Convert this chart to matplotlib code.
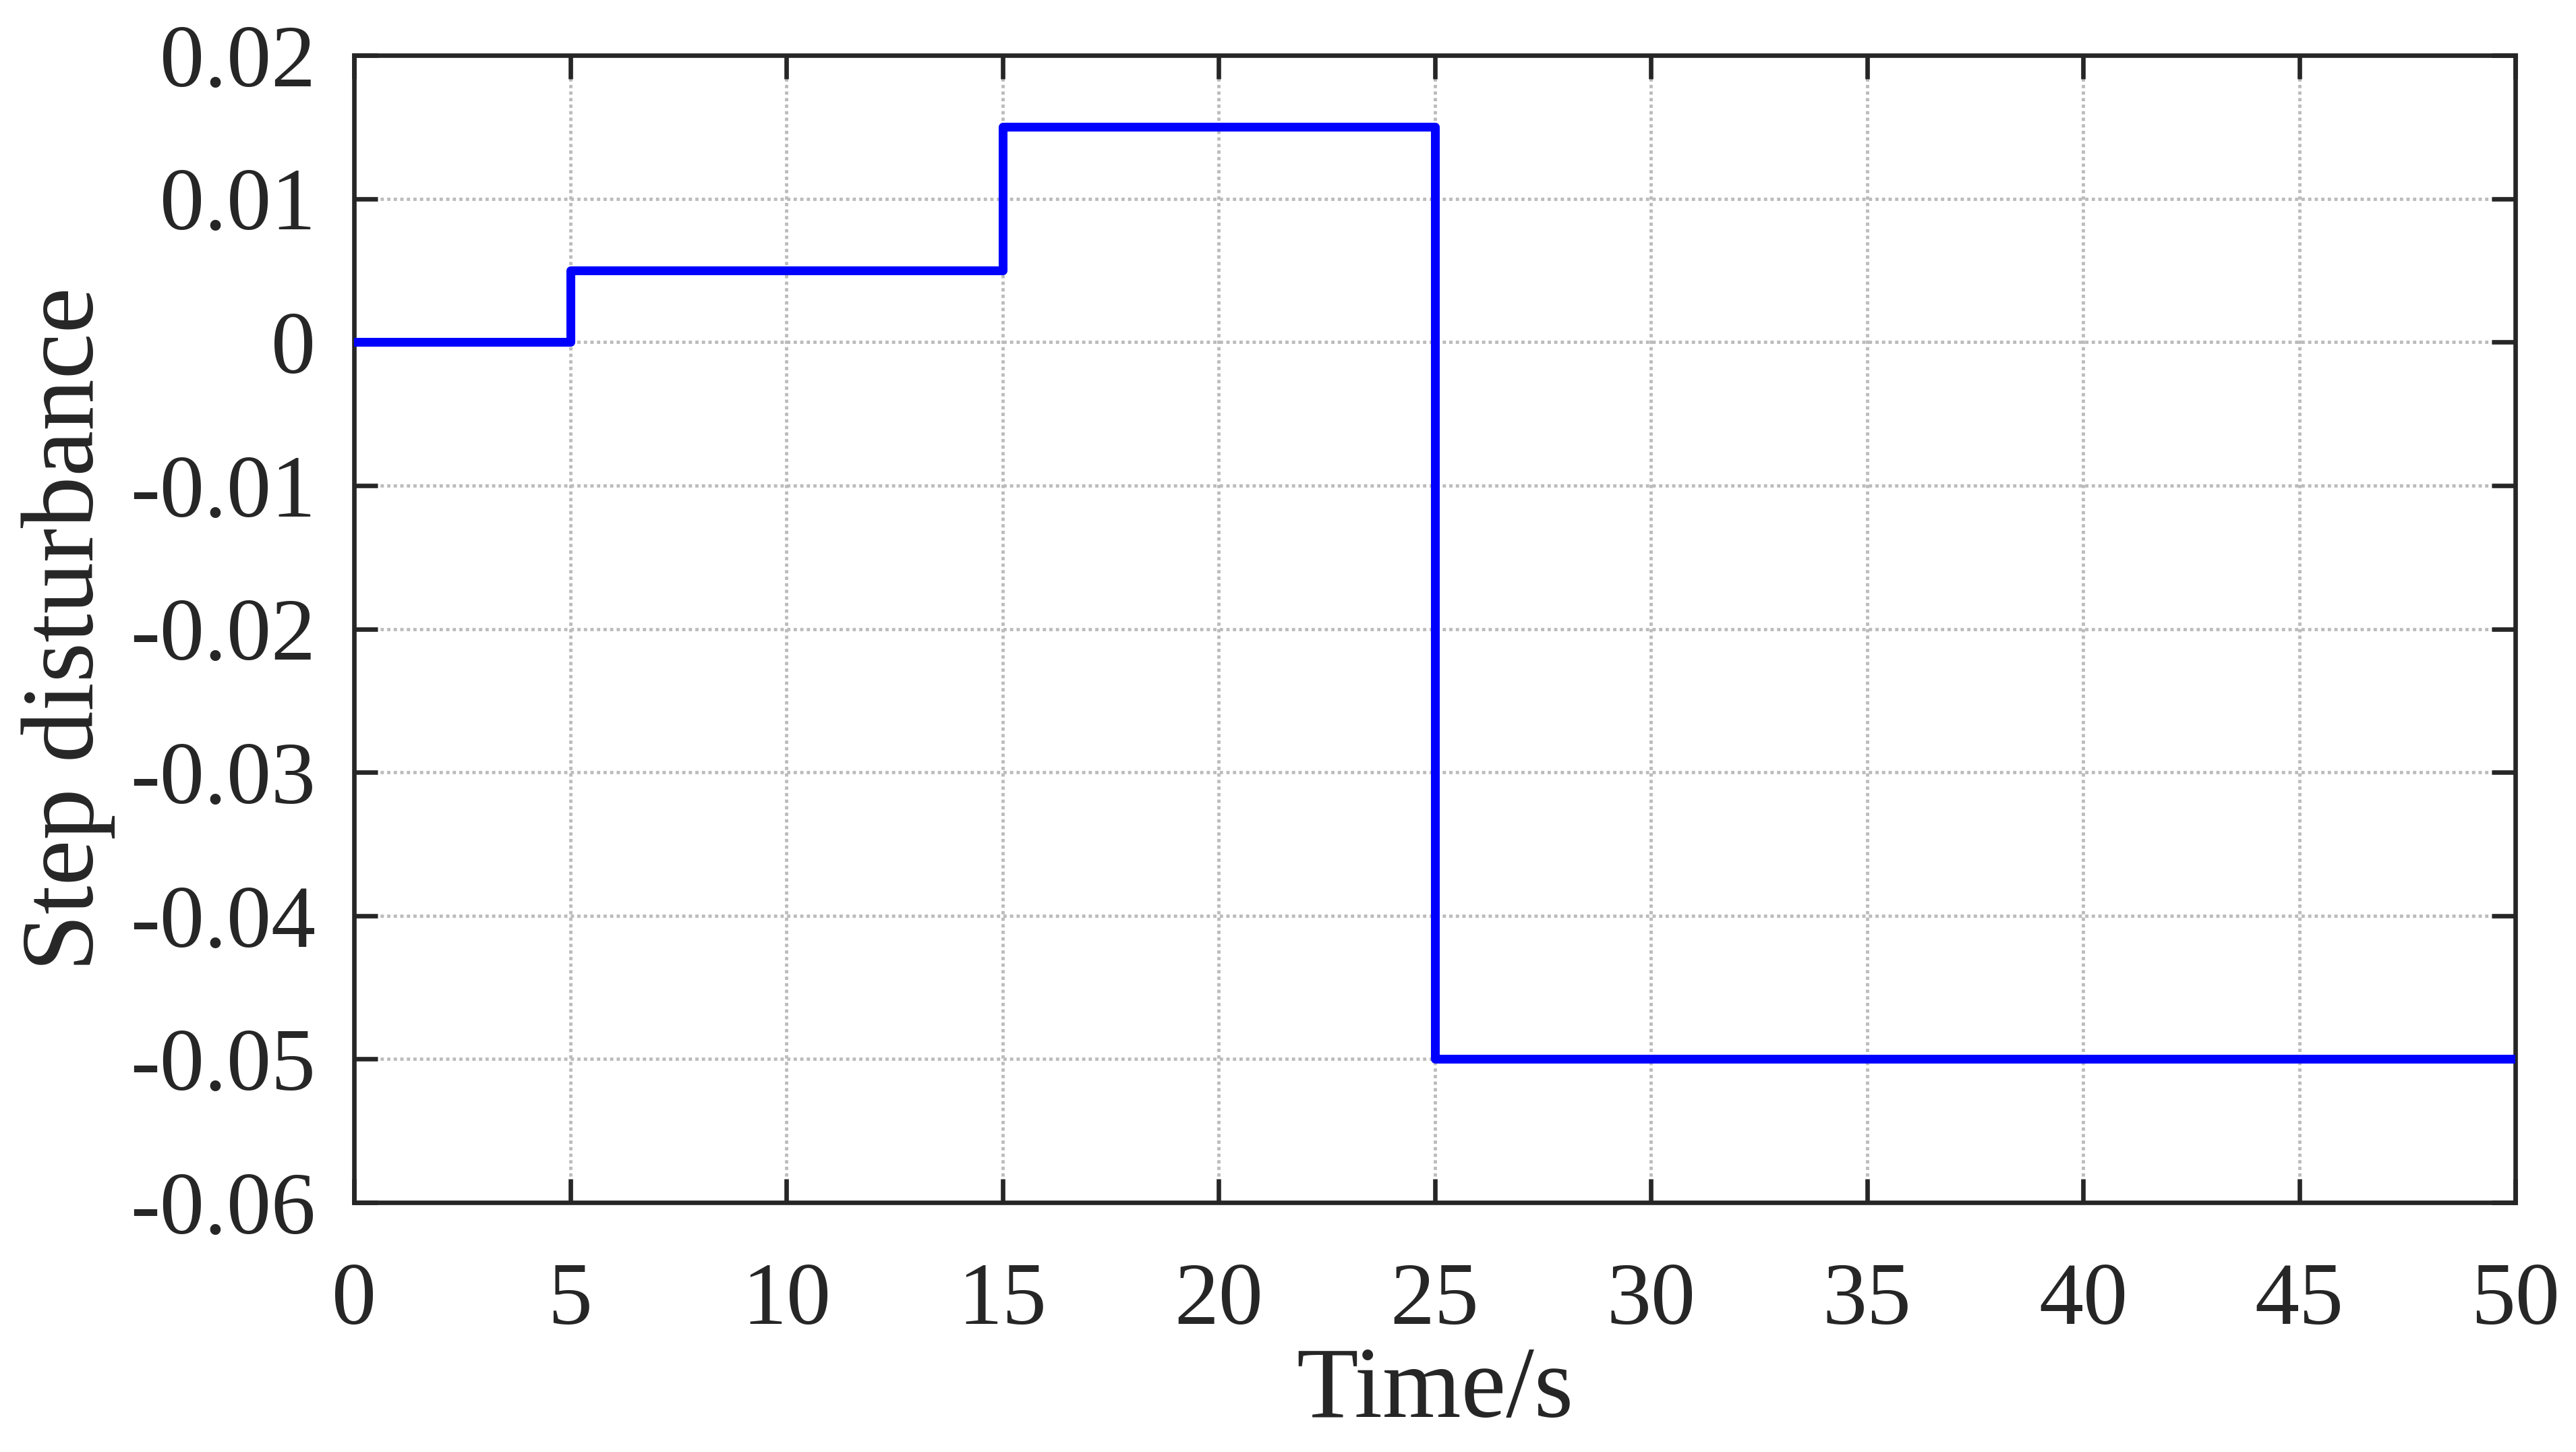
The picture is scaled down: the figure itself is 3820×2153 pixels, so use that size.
import matplotlib
matplotlib.use("Agg")
import matplotlib.pyplot as plt

# data
t_edges = [0, 5, 15, 25, 50]
disturbance = [0, 0.005, 0.015, -0.05, -0.05]
xticks = [0, 5, 10, 15, 20, 25, 30, 35, 40, 45, 50]
yticks = [0.02, 0.01, 0, -0.01, -0.02, -0.03, -0.04, -0.05, -0.06]
ytick_labels = ["0.02", "0.01", "0", "-0.01", "-0.02", "-0.03", "-0.04", "-0.05", "-0.06"]

plt.rcParams['font.family'] = ['Liberation Serif', 'DejaVu Serif']
dark = '#262626'

fig = plt.figure(figsize=(38.2, 21.53), dpi=100)
ax = fig.add_axes([525/3820, 1 - 1783/2153, (3730-525)/3820, (1783-82)/2153])

ax.step(t_edges, disturbance, where='post', color='#0000ff', linewidth=9.4, zorder=3)

ax.set_xlim(0, 50)
ax.set_ylim(-0.06, 0.02)
ax.set_xticks(xticks)
ax.set_xticklabels([str(v) for v in xticks])
ax.set_yticks(yticks)
ax.set_yticklabels(ytick_labels)

ax.grid(True, linestyle=(0, (1, 1)), color='#bcbcbc', linewidth=3.5, zorder=0)
for s in ax.spines.values():
    s.set_linewidth(4.8)
    s.set_color(dark)
ax.tick_params(direction='in', length=25, width=4.8, color=dark,
               top=True, right=True, labelsize=95, labelcolor=dark)
ax.tick_params(axis='x', pad=64)
ax.tick_params(axis='y', pad=41)

ax.set_xlabel('Time/s', fontsize=108, color=dark)
ax.set_ylabel('Step disturbance', fontsize=110, color=dark)
ax.xaxis.set_label_coords(0.5, (1783 - 1997) / (1783 - 82))
ax.yaxis.set_label_coords((171 - 525) / (3730 - 525), 0.5)

fig.savefig('out.png', dpi=100)
